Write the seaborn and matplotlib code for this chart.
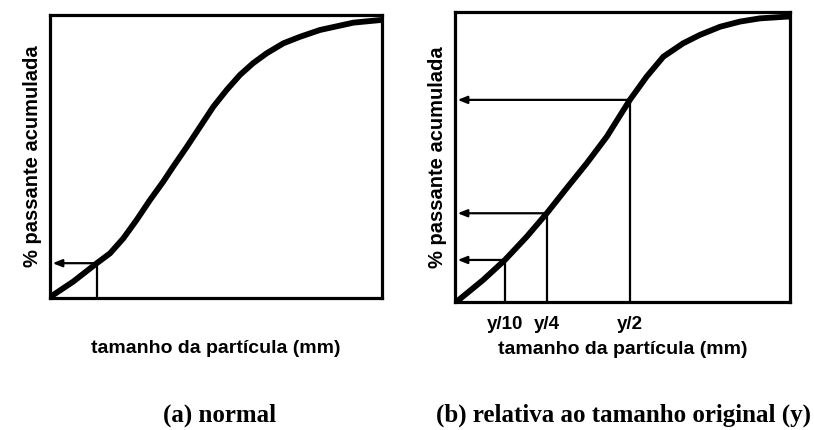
import matplotlib
matplotlib.use("Agg")
import matplotlib.pyplot as plt
import seaborn as sns
import pandas as pd

sns.set_style("white")
plt.rcParams['font.family'] = ['Liberation Sans', 'DejaVu Sans']
plt.rcParams['text.color'] = 'black'
plt.rcParams['axes.labelcolor'] = 'black'
plt.rcParams['xtick.color'] = 'black'

# Panel (a): normal
a_x = [0, 1.0, 7.0, 14.1, 18.1, 22.1, 26.1, 30.1, 34.1, 37.1, 41.2, 45.2, 49.2,
       53.2, 57.2, 61.2, 65.3, 70.3, 75.3, 81.3, 91.4, 99.4, 100]
a_y = [0, 1.1, 5.8, 12.3, 15.8, 21.1, 27.6, 34.6, 41.1, 46.4, 53.4, 60.5, 67.6,
       73.5, 78.8, 83.0, 86.5, 90.0, 92.3, 94.7, 97.3, 98.2, 98.2]
a_marks_x = [14.1]
a_marks_y = [12.3]

# Panel (b): relative to original size y
b_x = [0, 1.0, 8.4, 14.9, 21.4, 27.4, 33.3, 39.3, 45.3, 52.2, 57.2, 62.2, 68.1,
       73.1, 79.1, 85.1, 91.0, 99.0, 100]
b_y = [0, 0.6, 7.6, 14.5, 22.5, 30.6, 39.2, 47.8, 57.0, 69.7, 77.7, 84.6, 89.2,
       92.1, 94.9, 96.7, 97.8, 98.4, 98.4]
b_marks_x = [14.9, 27.4, 52.2]
b_marks_y = [14.5, 30.6, 69.7]
b_tick_labels = ["y/10", "y/4", "y/2"]

ylabel = "% passante acumulada"
xlabel = "tamanho da partícula (mm)"
captions = ["(a) normal", "(b) relativa ao tamanho original (y)"]

fig = plt.figure(figsize=(8.14, 4.30), dpi=100)
ax1 = fig.add_axes([50/814, (430-298)/430, 332/814, 283/430])
ax2 = fig.add_axes([455/814, (430-302)/430, 335/814, 290/430])

def draw(ax, xs, ys, mx, my):
    df = pd.DataFrame({"x": xs, "y": ys})
    sns.lineplot(data=df, x="x", y="y", ax=ax, color="black", lw=4.2,
                 sort=False, solid_capstyle="round", solid_joinstyle="round")
    for x, y in zip(mx, my):
        ax.plot([x, x], [0, y], color="black", lw=1.6)
        ax.annotate("", xy=(0.8, y), xytext=(x, y),
                    arrowprops=dict(arrowstyle="-|>,head_length=0.55,head_width=0.22",
                                    color="black", lw=1.6, shrinkA=0, shrinkB=0))
    ax.set_xlim(0, 100)
    ax.set_ylim(0, 100)
    for s in ax.spines.values():
        s.set_visible(True)
        s.set_color("black")
        s.set_linewidth(2.3)
    ax.set_yticks([])
    ax.set_ylabel(ylabel, fontsize=14.5, fontweight="bold", labelpad=6)

draw(ax1, a_x, a_y, a_marks_x, a_marks_y)
ax1.set_xticks([])
ax1.set_xlabel(xlabel, fontsize=14, fontweight="bold", labelpad=30)

draw(ax2, b_x, b_y, b_marks_x, b_marks_y)
ax2.set_xticks(b_marks_x)
ax2.set_xticklabels(b_tick_labels, fontsize=13.5, fontweight="bold")
ax2.tick_params(axis="x", length=0, pad=10)
ax2.set_xlabel(xlabel, fontsize=14, fontweight="bold", labelpad=6)

fig.text(220/814, 1 - 415/430, captions[0], ha="center", va="center",
         family=["Liberation Serif"], fontsize=18, fontweight="bold")
fig.text(624/814, 1 - 415/430, captions[1], ha="center", va="center",
         family=["Liberation Serif"], fontsize=18, fontweight="bold")

fig.savefig("out.png", dpi=100)
